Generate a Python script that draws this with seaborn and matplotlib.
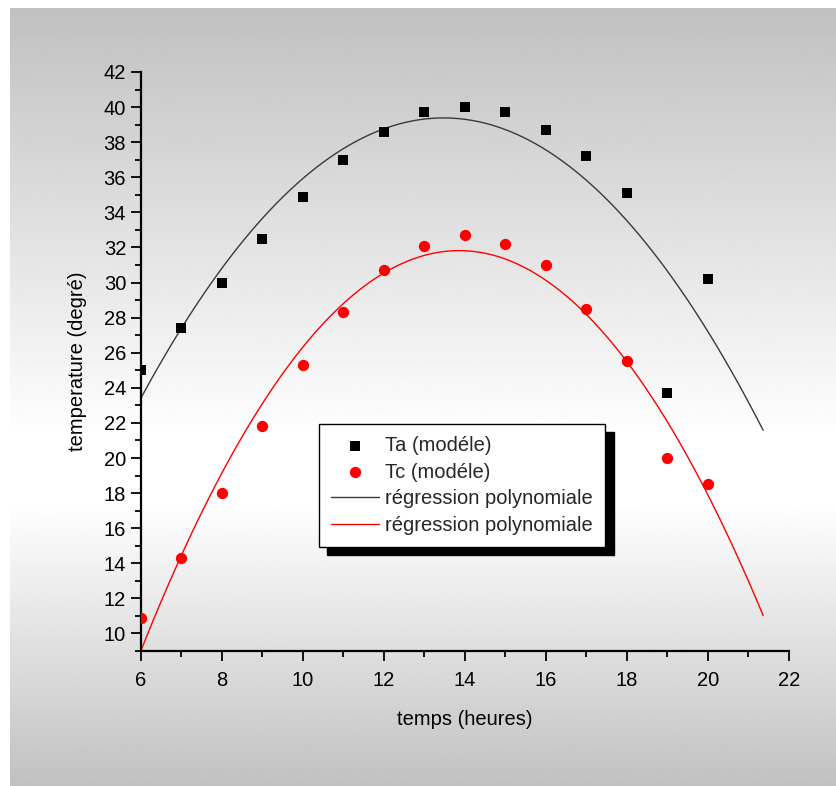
import numpy as np
import matplotlib
matplotlib.use("Agg")
import matplotlib.pyplot as plt
import seaborn as sns
from matplotlib.ticker import MultipleLocator

# ---- data ----
hours = [6, 7, 8, 9, 10, 11, 12, 13, 14, 15, 16, 17, 18, 19, 20]
ta_model = [25.0, 27.4, 30.0, 32.5, 34.9, 37.0, 38.6, 39.7, 40.0, 39.7, 38.7, 37.2, 35.1, 23.7, 30.2]
tc_model = [10.9, 14.3, 18.0, 21.8, 25.3, 28.3, 30.7, 32.1, 32.7, 32.2, 31.0, 28.5, 25.5, 20.0, 18.5]
label_ta = "Ta (modéle)"
label_tc = "Tc (modéle)"
label_fit = "régression polynomiale"
fit_span = (5.5, 21.37)          # x range over which the fitted curves are drawn
x_ticks_major, y_ticks_major = 2, 2
xlim = (6, 22)
ylim = (9, 42)

sns.set_theme(style="ticks")
plt.rcParams['font.family'] = ['Liberation Sans', 'DejaVu Sans']
FS = 14.5

W, H = 837, 786
fig = plt.figure(figsize=(W / 100, H / 100), dpi=100)
fig.patch.set_facecolor("white")

# gradient background panel
bg = fig.add_axes([10 / W, 0, 1 - 10 / W, 1 - 8 / H], zorder=-10)
pix = np.linspace(8, H, 500)
vals = np.interp(pix, [8, 440, 505, H], [0.755, 1.0, 1.0, 0.755])
grad = np.repeat(vals[:, None], 2, axis=1)
bg.imshow(grad, cmap="gray", vmin=0, vmax=1, aspect="auto", extent=[0, 1, 0, 1])
bg.set_axis_off()

ax = fig.add_axes([140.7 / W, 1 - 651 / H, 648 / W, 579 / H])
ax.set_facecolor("none")

sns.scatterplot(x=hours, y=ta_model, marker="s", s=55, color="black", linewidth=0,
                label=label_ta, ax=ax, zorder=3)
sns.scatterplot(x=hours, y=tc_model, marker="o", s=66, color="#ff0000", linewidth=0,
                label=label_tc, ax=ax, zorder=3)

ax.set_xlim(*fit_span)
sns.regplot(x=hours, y=ta_model, order=2, ci=None, scatter=False, truncate=False,
            color="#3a3a3a", line_kws=dict(lw=1.0), label=label_fit, ax=ax)
sns.regplot(x=hours, y=tc_model, order=2, ci=None, scatter=False, truncate=False,
            color="#ff0000", line_kws=dict(lw=1.0), label=label_fit, ax=ax)

ax.set_xlim(*xlim)
ax.set_ylim(*ylim)
ax.xaxis.set_major_locator(MultipleLocator(x_ticks_major))
ax.xaxis.set_minor_locator(MultipleLocator(1))
ax.yaxis.set_major_locator(MultipleLocator(y_ticks_major))
ax.yaxis.set_minor_locator(MultipleLocator(1))
ax.tick_params(which="major", length=7.5, width=1.3, direction="out", color="black",
               labelsize=FS, labelcolor="black")
ax.tick_params(which="minor", length=4, width=1.3, direction="out", color="black")
ax.tick_params(axis="x", which="major", pad=7)
ax.tick_params(axis="y", which="major", pad=3)

sns.despine(ax=ax)
for side in ("left", "bottom"):
    ax.spines[side].set_linewidth(1.6)
    ax.spines[side].set_color("black")

ax.set_xlabel("temps (heures)", fontsize=FS, color="black", labelpad=14)
ax.set_ylabel("temperature (degré)", fontsize=FS, color="black", labelpad=12)

handles, labels = ax.get_legend_handles_labels()
old = ax.get_legend()
if old is not None:
    old.remove()
leg = ax.legend(handles, labels, loc="upper left", bbox_to_anchor=(0.2752, 0.392),
                frameon=True, fancybox=False, edgecolor="black", facecolor="white",
                framealpha=1, shadow={"color": "black", "alpha": 1, "ox": 6, "oy": -6},
                fontsize=FS, handlelength=2.4, handletextpad=0.3, borderpad=0.6,
                labelspacing=0.38, borderaxespad=0)
leg.get_frame().set_linewidth(1.0)

fig.savefig("out.png", dpi=100)
